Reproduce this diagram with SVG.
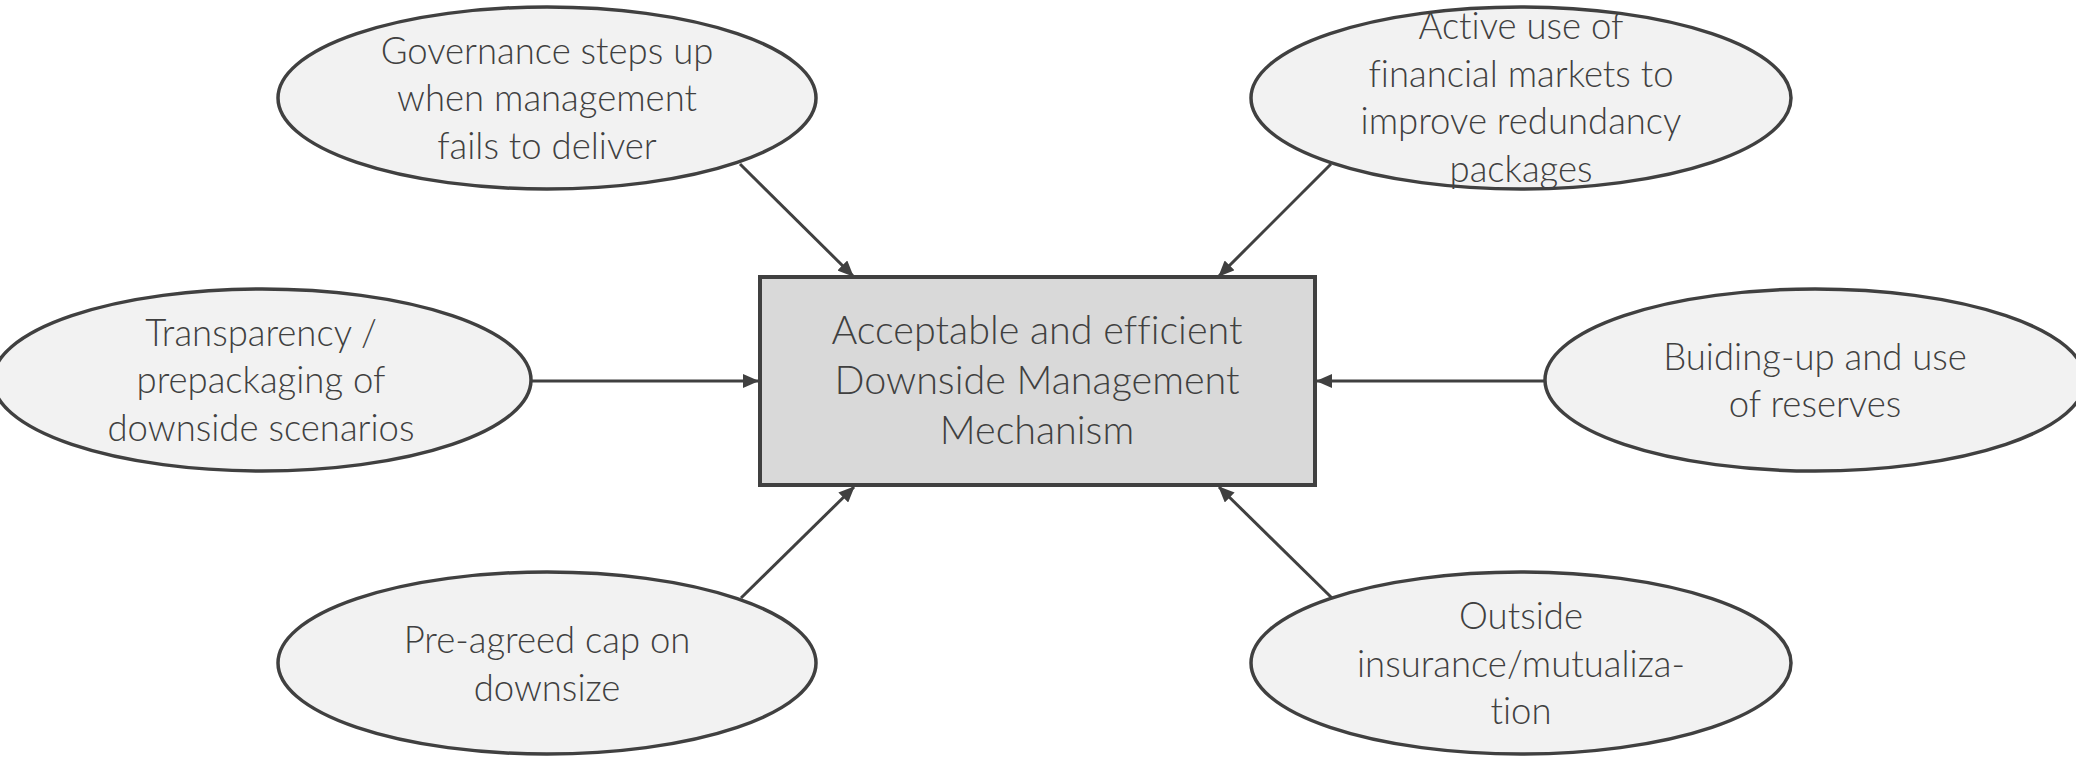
<svg xmlns="http://www.w3.org/2000/svg" width="2076" height="757" viewBox="0 0 2076 757">
  <defs>
    <style>
      .bubble { fill: #f2f2f2; stroke: #404040; stroke-width: 3.5; }
      .core { fill: #d9d9d9; stroke: #404040; stroke-width: 4; }
      .label { font-family: Lato, "Open Sans", "Liberation Sans", sans-serif; font-weight: 300; font-size: 36.5px; fill: #404040; text-anchor: middle; font-variant-ligatures: none; }
      .core-label { font-size: 39.5px; }
      .link { stroke: #404040; stroke-width: 3; fill: none; marker-end: url(#head); }
    </style>
    <marker id="head" viewBox="0 0 16 14" refX="15" refY="7" markerWidth="16" markerHeight="14" markerUnits="userSpaceOnUse" orient="auto">
      <path d="M0,0 L16,7 L0,14 Z" fill="#404040"/>
    </marker>
  </defs>
  <rect width="2076" height="757" fill="#ffffff"/>

  <!-- connectors from each measure into the central mechanism -->
  <g id="connectors">
    <line class="link" x1="740" y1="164" x2="853" y2="276"/>
    <line class="link" x1="1331" y1="164" x2="1219" y2="276"/>
    <line class="link" x1="531" y1="381" x2="758" y2="381"/>
    <line class="link" x1="1545" y1="381" x2="1317" y2="381"/>
    <line class="link" x1="741" y1="598" x2="854" y2="487"/>
    <line class="link" x1="1332" y1="598" x2="1219" y2="487"/>
  </g>

  <g id="core">
    <rect class="core" x="760" y="277" width="555" height="208"/>
    <text class="label core-label" x="1037" y="344">Acceptable and efficient</text>
    <text class="label core-label" x="1037" y="394">Downside Management</text>
    <text class="label core-label" x="1037" y="444">Mechanism</text>
  </g>

  <g id="governance">
    <ellipse class="bubble" cx="547" cy="98" rx="269" ry="91"/>
    <text class="label" x="547" y="64">Governance steps up</text>
    <text class="label" x="547" y="111">when management</text>
    <text class="label" x="547" y="159">fails to deliver</text>
  </g>

  <g id="financial-markets">
    <ellipse class="bubble" cx="1521" cy="98" rx="270" ry="91"/>
    <text class="label" x="1521" y="39">Active use of</text>
    <text class="label" x="1521" y="87">financial markets to</text>
    <text class="label" x="1521" y="134">improve redundancy</text>
    <text class="label" x="1521" y="182">packages</text>
  </g>

  <g id="transparency">
    <ellipse class="bubble" cx="262" cy="380" rx="269" ry="91"/>
    <text class="label" x="261" y="346">Transparency /</text>
    <text class="label" x="261" y="393">prepackaging of</text>
    <text class="label" x="261" y="441">downside scenarios</text>
  </g>

  <g id="reserves">
    <ellipse class="bubble" cx="1815" cy="380" rx="270" ry="91"/>
    <text class="label" x="1815" y="370">Buiding-up and use</text>
    <text class="label" x="1815" y="417">of reserves</text>
  </g>

  <g id="cap">
    <ellipse class="bubble" cx="547" cy="663" rx="269" ry="91"/>
    <text class="label" x="547" y="653">Pre-agreed cap on</text>
    <text class="label" x="547" y="701">downsize</text>
  </g>

  <g id="insurance">
    <ellipse class="bubble" cx="1521" cy="663" rx="270" ry="91"/>
    <text class="label" x="1521" y="629">Outside</text>
    <text class="label" x="1521" y="677">insurance/mutualiza-</text>
    <text class="label" x="1521" y="724">tion</text>
  </g>
</svg>
